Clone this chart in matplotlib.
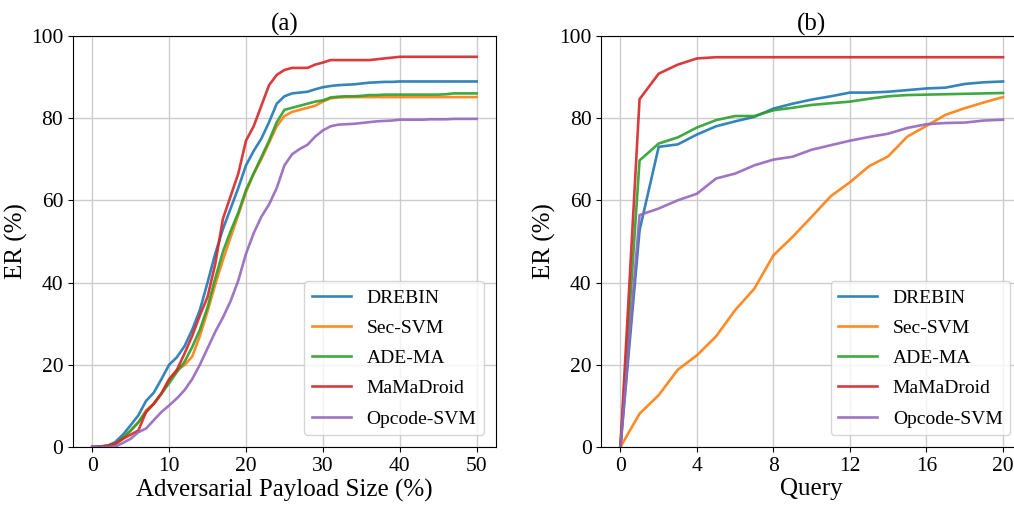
# ER curves: payload size (a) and query count (b)
import matplotlib
matplotlib.use("Agg")
import matplotlib.pyplot as plt

plt.rcParams['font.family'] = ['Liberation Serif', 'DejaVu Serif']
plt.rcParams['mathtext.fontset'] = 'stix'

modelos = ["DREBIN", "Sec-SVM", "ADE-MA", "MaMaDroid", "Opcode-SVM"]
colores = ["#1f77b4", "#ff7f0e", "#2ca02c", "#d62728", "#9467bd"]

# (a) payload size 0..50 %
payload = list(range(0, 51))
drebin_a = [0, 0.1, 0.3, 1.2, 3, 5.3, 7.7, 11.2, 13.2, 16.5,
            20, 21.8, 24.5, 28.5, 33.3, 40, 47, 53, 58, 63,
            68.5, 72, 75, 79, 83.5, 85.3, 86, 86.2, 86.4, 87,
            87.5, 87.8, 88, 88.1, 88.2, 88.4, 88.6, 88.7, 88.8, 88.8,
            88.9, 88.9, 88.9, 88.9, 88.9, 88.9, 88.9, 88.9, 88.9, 88.9, 88.9]
secsvm_a = [0, 0.1, 0.3, 0.7, 2, 4, 6, 8.9, 10.5, 13,
            16.2, 18.7, 19.9, 22, 27, 33, 39.5, 45.5, 51, 56.5,
            62, 66.5, 70, 74, 78, 80.5, 81.5, 82, 82.5, 83,
            84, 84.8, 85, 85.1, 85.1, 85.1, 85.1, 85.1, 85.1, 85.1,
            85.1, 85.1, 85.1, 85.1, 85.1, 85.1, 85.1, 85.1, 85.1, 85.1, 85.1]
adema_a = [0, 0.1, 0.3, 0.8, 2.3, 4, 6, 8.5, 10.5, 13,
           15.5, 18.2, 20.7, 24.3, 28.5, 34, 41, 47.5, 52.5, 57,
           62.5, 66.5, 70.5, 74.5, 79, 82, 82.5, 83, 83.5, 84,
           84.3, 85, 85.2, 85.3, 85.3, 85.4, 85.6, 85.6, 85.7, 85.7,
           85.7, 85.7, 85.7, 85.7, 85.7, 85.7, 85.8, 86, 86, 86, 86]
mama_a = [0, 0.1, 0.3, 0.8, 2, 3, 4, 8.5, 10.5, 13,
          16.5, 18.7, 22.7, 27, 32, 36.5, 44.5, 55.5, 61, 66.5,
          74.5, 78, 83, 88, 90.5, 91.7, 92.2, 92.2, 92.2, 93,
          93.5, 94.1, 94.1, 94.1, 94.1, 94.1, 94.1, 94.3, 94.5, 94.7,
          94.9, 94.9, 94.9, 94.9, 94.9, 94.9, 94.9, 94.9, 94.9, 94.9, 94.9]
opcode_a = [0, 0, 0, 0.1, 1, 2, 3.6, 4.5, 6.5, 8.5,
            10.1, 11.8, 13.8, 16.5, 20, 24, 28, 31.5, 35.5, 40.5,
            47, 52, 56, 59, 63, 68.5, 71.2, 72.5, 73.5, 75.5,
            77, 78, 78.4, 78.5, 78.6, 78.8, 79, 79.2, 79.3, 79.4,
            79.6, 79.6, 79.6, 79.6, 79.7, 79.7, 79.7, 79.8, 79.8, 79.8, 79.8]

# (b) number of queries 0..20
query = list(range(0, 21))
drebin_b = [0, 52.7, 73, 73.6, 76, 78, 79.2, 80.3, 82.3, 83.5,
            84.5, 85.3, 86.2, 86.2, 86.4, 86.8, 87.2, 87.4, 88.3, 88.7, 88.9]
secsvm_b = [0, 8.1, 12.6, 18.8, 22.3, 26.9, 33.3, 38.5, 46.6, 51.1,
            56, 61, 64.4, 68.3, 70.7, 75.5, 78.1, 80.8, 82.4, 83.8, 85.1]
adema_b = [0, 69.7, 73.8, 75.3, 77.7, 79.5, 80.5, 80.5, 81.9, 82.5,
           83.2, 83.6, 84, 84.7, 85.3, 85.6, 85.7, 85.8, 85.9, 86, 86.1]
mama_b = [0, 84.6, 90.8, 93, 94.5, 94.8, 94.8, 94.8, 94.8, 94.8,
          94.8, 94.8, 94.8, 94.8, 94.8, 94.8, 94.8, 94.8, 94.8, 94.8, 94.8]
opcode_b = [0, 56.4, 58, 60, 61.6, 65.3, 66.5, 68.5, 69.9, 70.6,
            72.3, 73.4, 74.5, 75.4, 76.2, 77.6, 78.5, 78.8, 78.9, 79.4, 79.6]

fig = plt.figure(figsize=(10.14, 5.12), dpi=100)
ax1 = fig.add_axes([0.072, 0.127, 0.417, 0.803])
ax2 = fig.add_axes([0.593, 0.127, 0.415, 0.803])

for serie, c, m in zip([drebin_a, secsvm_a, adema_a, mama_a, opcode_a], colores, modelos):
    ax1.plot(payload, serie, color=c, lw=1.9, label=m, alpha=0.9)
for serie, c, m in zip([drebin_b, secsvm_b, adema_b, mama_b, opcode_b], colores, modelos):
    ax2.plot(query, serie, color=c, lw=1.9, label=m, alpha=0.9)

ax1.set_title("(a)", fontsize=18, pad=3)
ax2.set_title("(b)", fontsize=18, pad=3)
ax1.set_xlabel("Adversarial Payload Size (%)", fontsize=18, labelpad=2)
ax2.set_xlabel("Query", fontsize=18, labelpad=2)
ax1.set_ylabel("ER (%)", fontsize=18, labelpad=2)
ax2.set_ylabel("ER (%)", fontsize=18, labelpad=2)

ax1.set_xticks([0, 10, 20, 30, 40, 50])
ax2.set_xticks([0, 4, 8, 12, 16, 20])
for ax in (ax1, ax2):
    ax.set_ylim(0, 100)
    ax.set_yticks([0, 20, 40, 60, 80, 100])
    ax.tick_params(labelsize=15.5)
    ax.grid(True, color="#cccccc", lw=1)
    ax.set_axisbelow(True)
    ax.legend(loc="lower right", fontsize=14, labelspacing=0.65,
              borderaxespad=0.6)

plt.savefig("out.png", dpi=100)
